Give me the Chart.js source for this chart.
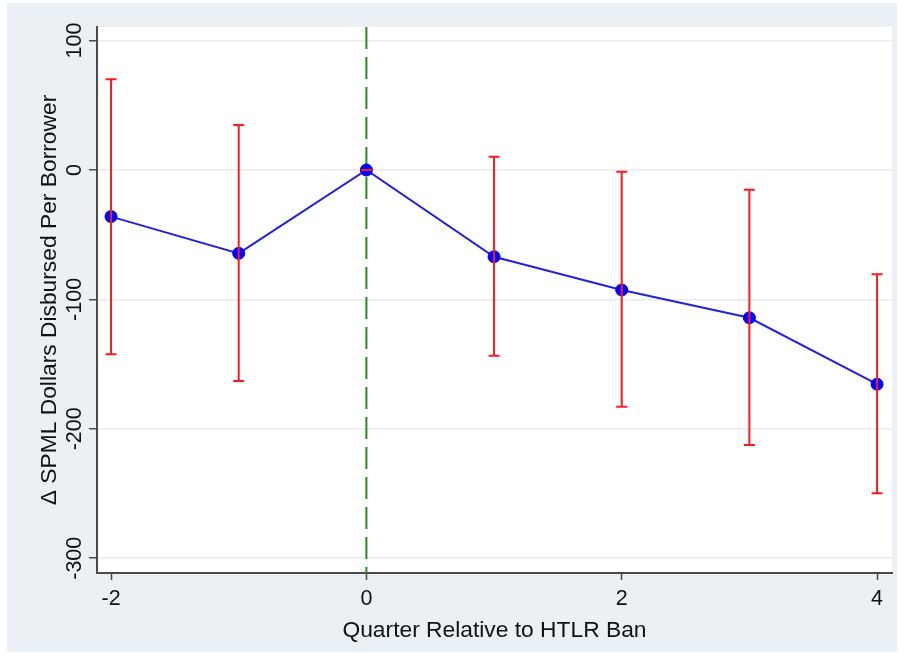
<!DOCTYPE html>
<html>
<head>
<meta charset="utf-8">
<script src="https://cdn.jsdelivr.net/npm/chart.js@4"></script>
<style>
  html, body { margin: 0; padding: 0; background: #ffffff; }
  #wrap { width: 904px; height: 662px; }
</style>
</head>
<body>
<div id="wrap"><canvas id="c" width="904" height="662"></canvas></div>
<script>
// Event-study estimates: quarter relative to the ban, point estimate and 95% CI
const quarters = [-2, -1, 0, 1, 2, 3, 4];
const estimates = [-36, -64.4, 0, -67, -92.7, -114.2, -165.5];
const ciUpper = [70.1, 34.8, 0, 10.3, -1.3, -15.2, -80.5];
const ciLower = [-142.4, -163.1, 0, -143.5, -182.9, -212.5, -249.8];

const xTicks = [-2, 0, 2, 4];
const yTicks = [100, 0, -100, -200, -300];
const eventQuarter = 0;

const FONT = '"Liberation Sans", Arial, sans-serif';
const AXIS_COLOR = '#4a4a4a';

// Panel background and white plot region
const backgroundPlugin = {
  id: 'panels',
  beforeDraw(chart) {
    const { ctx, chartArea: a } = chart;
    ctx.save();
    ctx.fillStyle = '#ffffff';
    ctx.fillRect(0, 0, chart.width, chart.height);
    ctx.fillStyle = '#eaf0f3';
    ctx.fillRect(7, 3, 890, 649);
    ctx.fillStyle = '#ffffff';
    ctx.fillRect(a.left, a.top, a.right - a.left, a.bottom - a.top);
    ctx.restore();
  }
};

// Dashed vertical marker at the ban quarter, behind the series
const eventLinePlugin = {
  id: 'eventLine',
  beforeDatasetsDraw(chart) {
    const { ctx, chartArea: a, scales: { x } } = chart;
    const px = x.getPixelForValue(eventQuarter);
    ctx.save();
    ctx.strokeStyle = '#228b22';
    ctx.lineWidth = 2;
    ctx.setLineDash([22, 8]);
    ctx.beginPath();
    ctx.moveTo(px, a.top);
    ctx.lineTo(px, a.bottom);
    ctx.stroke();
    ctx.restore();
  }
};

// Capped confidence-interval bars drawn over the markers
const errorBarPlugin = {
  id: 'errorBars',
  afterDatasetsDraw(chart) {
    const { ctx, scales: { x, y } } = chart;
    const cap = 5.5;
    ctx.save();
    ctx.strokeStyle = '#ff1a1a';
    ctx.lineWidth = 2;
    quarters.forEach((q, i) => {
      const px = x.getPixelForValue(q);
      const top = y.getPixelForValue(ciUpper[i]);
      const bot = y.getPixelForValue(ciLower[i]);
      ctx.beginPath();
      ctx.moveTo(px, top);
      ctx.lineTo(px, bot);
      ctx.moveTo(px - cap, top);
      ctx.lineTo(px + cap, top);
      ctx.moveTo(px - cap, bot);
      ctx.lineTo(px + cap, bot);
      ctx.stroke();
    });
    ctx.restore();
  }
};

new Chart(document.getElementById('c'), {
  type: 'line',
  data: {
    datasets: [{
      data: quarters.map((q, i) => ({ x: q, y: estimates[i] })),
      borderColor: '#2222dd',
      borderWidth: 2,
      pointBackgroundColor: '#0000ff',
      pointBorderColor: '#0000ff',
      pointRadius: 6,
      pointBorderWidth: 1,
      tension: 0,
      fill: false
    }]
  },
  options: {
    responsive: false,
    animation: false,
    events: [],
    layout: { padding: { left: 7, top: 27, right: 12, bottom: 10 } },
    plugins: {
      legend: { display: false },
      tooltip: { enabled: false }
    },
    scales: {
      x: {
        type: 'linear',
        min: -2.11,
        max: 4.117,
        afterBuildTicks(scale) { scale.ticks = xTicks.map(v => ({ value: v })); },
        afterFit(scale) { scale.height = 79; },
        grid: {
          drawOnChartArea: false,
          drawTicks: true,
          tickLength: 7,
          tickColor: AXIS_COLOR,
          tickWidth: 1.5
        },
        border: { display: true, color: AXIS_COLOR, width: 2 },
        ticks: {
          color: '#111111',
          font: { family: FONT, size: 21.5 },
          padding: 6,
          maxRotation: 0,
          minRotation: 0
        },
        title: {
          display: true,
          text: 'Quarter Relative to HTLR Ban',
          color: '#111111',
          font: { family: FONT, size: 22.8 },
          padding: { top: 0, bottom: 8 }
        }
      },
      y: {
        type: 'linear',
        min: -311.4,
        max: 110.5,
        afterBuildTicks(scale) { scale.ticks = yTicks.map(v => ({ value: v })); },
        afterFit(scale) { scale.width = 90; },
        grid: {
          color: '#e6ecee',
          lineWidth: 1.5,
          drawTicks: true,
          tickLength: 8,
          tickColor: AXIS_COLOR,
          tickWidth: 1.5
        },
        border: { display: true, color: AXIS_COLOR, width: 2 },
        ticks: {
          color: '#111111',
          font: { family: FONT, size: 21.5 },
          minRotation: 90,
          maxRotation: 90,
          crossAlign: 'center',
          padding: -8
        },
        title: {
          display: true,
          text: 'Δ SPML Dollars Disbursed Per Borrower',
          color: '#111111',
          font: { family: FONT, size: 22.8 },
          padding: { top: 29, bottom: 0 }
        }
      }
    }
  },
  plugins: [backgroundPlugin, eventLinePlugin, errorBarPlugin]
});
</script>
</body>
</html>
